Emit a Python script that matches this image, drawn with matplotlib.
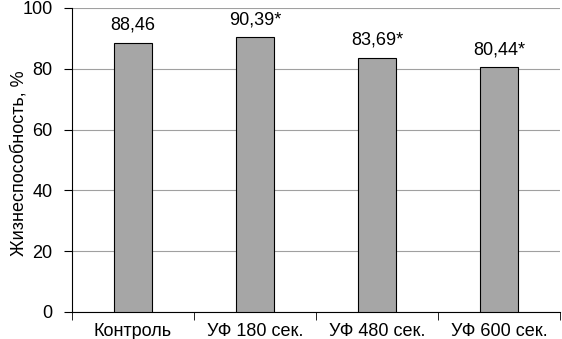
import matplotlib
matplotlib.use("Agg")
from matplotlib import pyplot as plt
import numpy as np

# data
categories = ["Контроль", "УФ 180 сек.", "УФ 480 сек.", "УФ 600 сек."]
values = [88.46, 90.39, 83.69, 80.44]
labels = ["88,46", "90,39*", "83,69*", "80,44*"]

plt.rcParams['font.family'] = ['Liberation Sans', 'DejaVu Sans']
plt.rcParams['font.size'] = 13

fig = plt.figure(figsize=(5.62, 3.39), dpi=100)
ax = fig.add_axes([72/562, 1 - 312/339, (560-72)/562, (312-8)/339])

x = np.arange(len(categories))
bars = ax.bar(x, values, width=0.31, color="#a6a6a6", edgecolor="black", linewidth=0.8, zorder=3)
for b, lab in zip(bars, labels):
    ax.text(b.get_x() + b.get_width()/2, b.get_height() + 3, lab,
            ha="center", va="bottom", fontsize=13)

ax.set_xlim(-0.5, len(categories) - 0.5)
ax.set_ylim(0, 100)
ax.set_yticks(range(0, 101, 20))
ax.yaxis.grid(True, color="#a0a0a0", linewidth=0.8, zorder=0)
ax.set_xticks(x)
ax.set_xticklabels(categories)
ax.tick_params(axis="x", length=0, pad=8)
ax.set_xticks(np.arange(-0.5, len(categories)), minor=True)
ax.tick_params(axis="x", which="minor", length=6, direction="out")
ax.tick_params(axis="y", length=6, direction="out", pad=8)
for s in ["top", "right"]:
    ax.spines[s].set_visible(False)
ax.spines["left"].set_linewidth(0.8)
ax.spines["bottom"].set_linewidth(0.8)
ax.set_ylabel("Жизнеспособность, %", fontsize=13, va="center")
ax.yaxis.set_label_coords((19 - 72) / 488, 0.49)

fig.savefig("out.png", dpi=100)
